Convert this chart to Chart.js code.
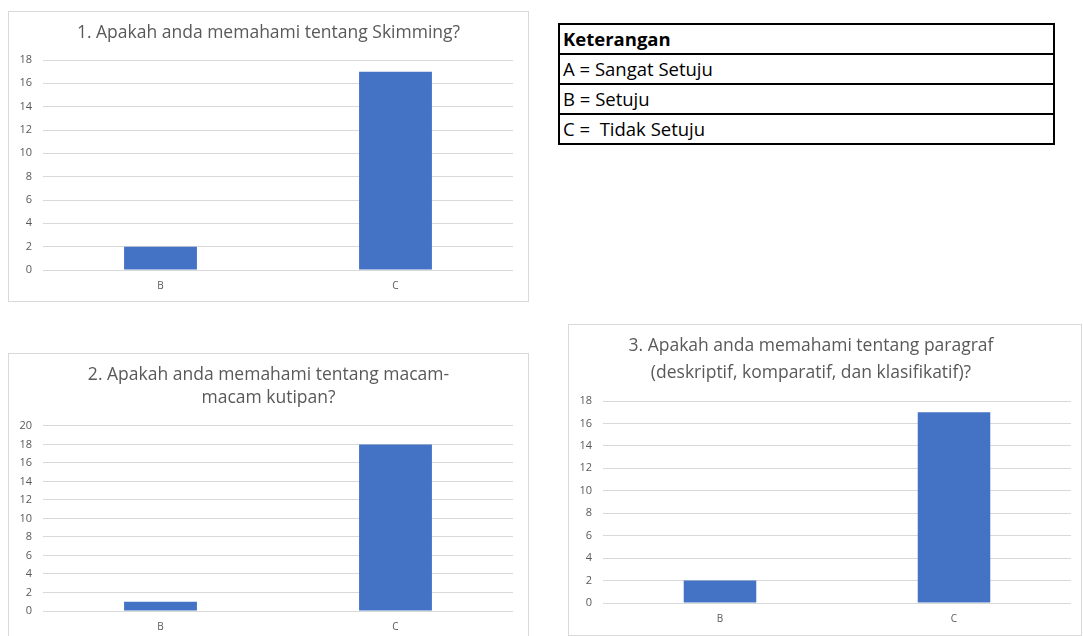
<!DOCTYPE html>
<html>
<head>
<meta charset="utf-8">
<script src="https://cdn.jsdelivr.net/npm/chart.js@4"></script>
<style>
  html, body { margin: 0; padding: 0; background: #fff; width: 1083px; height: 636px; overflow: hidden; }
  .box { position: absolute; border: 1px solid #d9d9d9; background: #fff; }
  .box div { position: absolute; inset: 0; }
  #legendTable { position: absolute; left: 558px; top: 23px; width: 497px; border-collapse: collapse;
    font-family: "Open Sans", sans-serif; font-size: 18.5px; color: #000; }
  #legendTable td { border: 2px solid #000; height: 28px; padding: 0 3px; line-height: 28px; white-space: pre; }
  #legendTable tr:first-child td { font-weight: bold; }
</style>
</head>
<body>
<div class="box" style="left:8px;top:11px;width:519px;height:289px"><div><canvas id="chart1"></canvas></div></div>
<div class="box" style="left:8px;top:353px;width:519px;height:290px"><div><canvas id="chart2"></canvas></div></div>
<div class="box" style="left:568px;top:324px;width:512px;height:310px"><div><canvas id="chart3"></canvas></div></div>

<table id="legendTable">
  <tr><td>Keterangan</td></tr>
  <tr><td>A = Sangat Setuju</td></tr>
  <tr><td>B = Setuju</td></tr>
  <tr><td>C =  Tidak Setuju</td></tr>
</table>

<script>
// data
const categories = ['B', 'C'];
const q1Values = [2, 17];
const q2Values = [1, 18];
const q3Values = [2, 17];
const q1Title = ['1. Apakah anda memahami tentang Skimming?'];
const q2Title = ['2. Apakah anda memahami tentang macam-', 'macam kutipan?'];
const q3Title = ['3. Apakah anda memahami tentang paragraf', '(deskriptif, komparatif, dan klasifikatif)?'];

const FONT = '"Open Sans", sans-serif';
const TEXT = '#595959';
const GRID = '#d9d9d9';
const BAR = '#4472C4';

// satu chart batang
const makeChart = (id, title, values, yMax, lay) => {
    const ctx = document.getElementById(id).getContext('2d');
    return new Chart(ctx, {
        type: 'bar',
        data: {
            labels: categories,
            datasets: [{
                data: values,
                backgroundColor: BAR,
                barPercentage: 0.31,
                categoryPercentage: 1
            }]
        },
        options: {
            responsive: true,
            maintainAspectRatio: false,
            animation: false,
            layout: { padding: { left: lay.left, right: 0, top: 0, bottom: lay.bottom } },
            plugins: {
                legend: { display: false },
                tooltip: { enabled: false },
                title: {
                    display: true,
                    text: title,
                    color: TEXT,
                    font: { family: FONT, size: 17.5, weight: 'normal', lineHeight: lay.lh },
                    padding: { top: lay.tTop, bottom: lay.tBottom }
                }
            },
            scales: {
                x: {
                    grid: { display: false, drawTicks: false },
                    border: { display: false },
                    ticks: { color: TEXT, font: { family: FONT, size: 10 }, padding: 10 },
                    afterFit: s => { s.height = lay.xh; }
                },
                y: {
                    min: 0,
                    max: yMax,
                    grid: { color: GRID, lineWidth: 1, drawTicks: false },
                    border: { display: false },
                    ticks: { stepSize: 2, color: TEXT, font: { family: FONT, size: 11 }, padding: 11 },
                    afterFit: s => { s.width = lay.yw; }
                },
                // sumbu kosong di kanan, hanya untuk jarak kanan area plot
                yPad: {
                    position: 'right',
                    grid: { display: false },
                    border: { display: false },
                    ticks: { display: false },
                    afterFit: s => { s.width = lay.rw; }
                }
            }
        }
    });
};

document.addEventListener('DOMContentLoaded', () => {
    makeChart('chart1', q1Title, q1Values, 18, { left: 0, rw: 15, bottom: 0, xh: 31, lh: 1.2, tTop: 10.5, tBottom: 16.5, yw: 34 });
    makeChart('chart2', q2Title, q2Values, 20, { left: 0, rw: 15, bottom: 3, xh: 30, lh: 1.314, tTop: 9.5, tBottom: 16.5, yw: 34 });
    // judul grafik 3 sedikit ke kiri di aslinya
    makeChart('chart3', q3Title, q3Values, 18, { left: -28, rw: 10, bottom: 0, xh: 32, lh: 1.543, tTop: 7.5, tBottom: 14.5, yw: 62 });
});
</script>
</body>
</html>
